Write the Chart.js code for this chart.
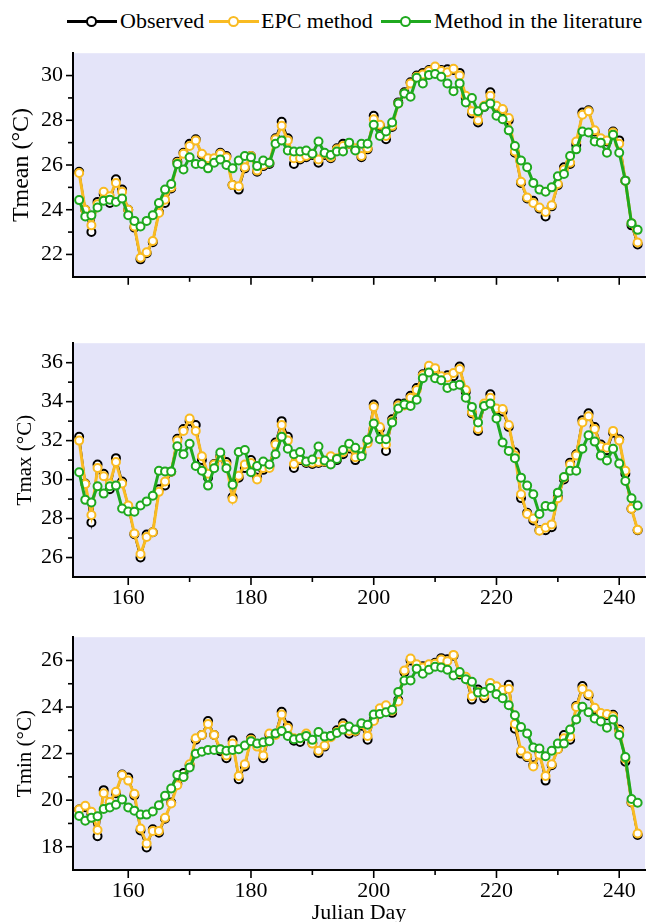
<!DOCTYPE html>
<html>
<head>
<meta charset="utf-8">
<script src="https://cdn.jsdelivr.net/npm/chart.js@4.4.0/dist/chart.umd.min.js"></script>
<style>
body{margin:0;background:#fff;width:651px;height:922px;position:relative;overflow:hidden;font-family:'Liberation Serif','Times New Roman',serif}
canvas{position:absolute;left:0}
.sw{position:absolute;top:20px;height:3px;width:50px}
.sw i{position:absolute;left:19px;top:-4px;width:7px;height:7px;border-radius:50%;background:#fff;border:2px solid}
.lb{position:absolute;top:10px;font-size:22px;line-height:22px;white-space:nowrap;color:#000}
</style>
</head>
<body>
<div class="sw" style="left:67px;background:#000"><i style="border-color:#000"></i></div>
<div class="lb" style="left:120px">Observed</div>
<div class="sw" style="left:209px;background:#f9bb22"><i style="border-color:#f9bb22"></i></div>
<div class="lb" style="left:261px">EPC method</div>
<div class="sw" style="left:381px;background:#1fa91f"><i style="border-color:#1fa91f"></i></div>
<div class="lb" style="left:434px">Method in the literature</div>

<canvas id="cMean" width="651" height="270" style="top:30px"></canvas>
<canvas id="cMax" width="651" height="300" style="top:320px"></canvas>
<canvas id="cMin" width="651" height="310" style="top:614px"></canvas>

<script>
const days = [152,153,154,155,156,157,158,159,160,161,162,163,164,165,166,167,168,169,170,171,
  172,173,174,175,176,177,178,179,180,181,182,183,184,185,186,187,188,189,190,191,
  192,193,194,195,196,197,198,199,200,201,202,203,204,205,206,207,208,209,210,211,
  212,213,214,215,216,217,218,219,220,221,222,223,224,225,226,227,228,229,230,231,
  232,233,234,235,236,237,238,239,240,241,242,243]

// Tmean
const obsMean = [25.7,24.0,23.0,24.35,24.7,24.3,25.36,24.9,24.0,23.2,21.78,22.05,22.55,23.9,24.3,24.95,26.15,26.55,26.95,27.15,
  26.45,26.25,26.25,26.55,26.4,25.1,24.9,25.85,26.4,25.7,25.95,26.05,27.2,27.93,27.2,26.05,26.25,26.35,26.45,26.1,
  26.45,26.3,26.75,26.95,26.95,26.7,26.35,26.7,28.2,27.75,27.15,27.7,28.8,29.25,29.7,30.0,30.12,30.25,30.35,30.25,
  30.28,30.25,30.12,29.0,28.3,27.9,28.6,29.25,28.6,28.45,28.0,26.55,25.2,24.5,24.4,24.05,23.7,24.15,25.1,25.9,
  26.05,26.9,28.35,28.45,27.5,27.15,27.05,27.5,27.1,25.3,23.3,22.45]
const epcMean = [25.64,24.0,23.3,24.25,24.8,24.6,25.2,24.8,24.0,23.25,21.85,22.1,22.6,23.85,24.45,25.0,26.1,26.5,26.85,27.1,
  26.5,26.3,26.3,26.5,26.35,25.1,25.05,25.9,26.4,25.75,26.0,26.1,27.15,27.75,27.1,26.3,26.3,26.4,26.5,26.25,
  26.5,26.35,26.7,26.85,26.95,26.75,26.4,26.75,28.05,27.8,27.3,27.75,28.75,29.2,29.65,29.95,30.05,30.2,30.4,30.2,
  30.15,30.3,30.0,29.1,28.4,28.0,28.65,29.1,28.65,28.5,28.1,26.6,25.25,24.55,24.3,24.1,23.9,24.2,25.15,25.8,
  26.1,27.05,28.25,28.4,27.55,27.2,27.1,27.45,26.95,25.3,23.4,22.53]
const litMean = [24.43,23.7,23.75,24.1,24.4,24.45,24.35,24.5,23.75,23.5,23.25,23.5,23.75,24.3,24.9,25.15,26.05,25.8,26.35,26.05,
  26.05,25.85,26.1,26.25,26.0,25.85,26.2,26.4,26.35,25.95,26.2,26.1,26.95,27.1,26.65,26.6,26.6,26.65,26.5,27.05,
  26.55,26.45,26.6,26.6,27.0,26.65,26.95,26.95,27.8,27.3,27.5,27.9,28.75,29.2,29.05,29.9,29.65,30.03,30.07,29.95,
  29.65,29.3,29.65,28.8,29.0,28.4,28.6,28.75,28.2,28.05,27.55,26.85,26.2,25.9,25.2,24.9,24.8,25.0,25.5,25.6,
  26.4,26.7,27.5,27.45,27.05,27.0,26.55,27.35,26.55,25.3,23.4,23.1]

// Tmax
const obsMax = [32.2,29.8,27.8,30.77,30.3,29.5,31.1,29.9,28.6,27.2,26.0,27.18,27.3,29.5,29.7,30.4,32.1,32.6,33.0,32.8,
  31.0,30.1,30.8,31.2,30.9,29.1,30.1,30.6,31.0,30.1,30.5,30.7,31.9,33.0,32.2,30.6,31.0,30.85,30.8,30.85,
  30.9,31.1,31.0,31.3,31.6,31.0,31.3,32.0,33.85,32.6,31.47,33.1,33.9,33.9,34.3,34.7,35.4,35.7,35.6,35.2,
  35.35,35.3,35.8,34.5,33.4,32.5,33.8,34.38,33.6,33.5,32.7,31.4,29.05,28.3,27.9,27.4,27.4,27.55,29.1,30.0,
  30.87,31.3,33.05,33.4,32.7,31.8,31.5,32.4,32.07,30.3,28.5,27.4]
const epcMax = [32.0,29.77,28.18,30.6,30.17,29.8,30.9,29.8,28.67,27.23,26.18,27.05,27.3,29.37,29.9,30.4,32.0,32.5,33.13,32.5,
  31.2,30.3,30.77,31.15,30.77,29.0,30.2,30.77,30.85,30.0,30.6,30.6,31.8,32.8,32.0,30.8,31.06,30.9,30.87,30.9,
  30.93,31.2,31.1,31.4,31.7,31.15,31.4,31.87,33.73,32.7,31.8,33.0,33.8,33.8,34.2,34.6,35.35,35.84,35.72,35.3,
  35.24,35.47,35.68,34.6,33.46,32.6,33.9,34.2,33.65,33.62,32.8,31.23,29.25,28.23,28.0,27.37,27.53,27.7,29.04,30.1,
  30.77,31.23,32.93,33.25,32.6,31.7,31.63,32.5,32.0,30.45,28.5,27.42]
const litMax = [30.38,28.96,28.83,29.66,29.28,29.66,29.69,28.52,28.36,28.35,28.67,28.88,29.17,30.45,30.42,30.42,31.71,31.3,31.84,30.7,
  30.45,29.69,30.58,31.39,30.58,29.74,31.42,31.52,30.38,30.7,30.93,30.77,31.3,32.2,31.58,31.3,31.42,30.93,31.03,31.7,
  30.98,30.77,31.06,31.52,31.84,31.63,31.2,32.04,32.88,32.07,32.07,32.93,33.65,33.86,33.78,34.1,35.2,35.5,35.2,35.1,
  34.7,34.82,34.87,34.2,33.73,32.93,33.78,33.9,33.14,31.9,31.47,31.1,30.1,29.69,29.25,28.23,28.64,28.6,29.33,30.13,
  30.45,30.45,31.58,32.28,31.95,31.23,30.98,31.58,30.82,29.93,29.04,28.67]

// Tmin
const obsMin = [19.6,19.7,19.4,18.45,20.43,19.9,20.3,21.1,20.97,20.2,18.7,17.97,18.75,18.6,19.2,19.9,20.7,21.17,21.5,22.6,
  22.8,23.4,22.8,22.1,21.8,22.57,20.9,21.45,22.66,22.4,21.8,22.8,22.85,23.8,23.2,22.55,22.5,22.8,22.45,22.03,
  22.3,22.75,23.0,23.3,22.85,22.95,23.2,22.6,23.45,23.9,24.0,23.75,24.3,25.5,26.0,25.8,25.75,25.8,25.9,26.1,
  26.05,26.2,25.4,25.25,24.32,24.75,24.38,25.0,24.85,24.7,24.96,23.07,22.0,21.85,21.5,22.05,20.84,21.5,22.2,22.8,
  22.6,24.05,24.9,24.5,23.9,23.7,23.65,23.67,23.03,21.65,19.9,18.5]
const epcMin = [19.6,19.76,19.5,18.72,20.3,19.92,20.36,21.08,20.84,20.27,18.78,18.14,18.68,18.68,19.24,19.86,20.64,21.0,21.54,22.66,
  22.8,23.27,22.8,22.19,21.92,22.43,21.04,21.54,22.6,22.3,21.92,22.86,22.8,23.68,23.1,22.66,22.66,22.86,22.43,22.12,
  22.35,22.7,22.93,23.2,22.97,22.97,23.27,22.76,23.4,23.95,24.08,23.84,24.24,25.57,26.08,25.84,25.7,25.84,25.86,26.04,
  25.97,26.24,25.45,25.3,24.46,24.65,24.49,25.03,24.89,24.73,24.78,23.27,22.12,21.89,21.45,21.95,21.04,21.54,22.19,22.66,
  22.73,24.0,24.78,24.55,23.97,23.74,23.7,23.6,22.97,21.78,19.92,18.57]
const litMin = [19.32,19.12,19.24,19.31,19.62,19.69,19.8,20.03,19.69,19.55,19.38,19.38,19.51,19.78,20.19,20.5,21.08,21.0,21.4,21.99,
  22.08,22.16,22.16,22.19,22.12,22.16,22.19,22.35,22.53,22.43,22.49,22.53,22.86,22.97,22.76,22.62,22.66,22.76,22.59,22.93,
  22.73,22.76,22.89,23.03,23.16,23.03,23.3,23.24,23.68,23.7,23.78,23.88,24.65,25.14,25.14,25.64,25.43,25.6,25.73,25.7,
  25.6,25.36,25.5,25.19,25.09,24.62,24.65,24.82,24.55,24.38,24.08,23.65,23.14,22.86,22.26,22.22,21.89,22.12,22.43,22.43,
  23.03,23.47,24.01,23.78,23.51,23.38,23.11,23.47,22.8,21.85,20.05,19.89]

const xMajor = [160,180,200,220,240]
const xMinor = [170,190,210,230]
const meanMajor = [22,24,26,28,30], meanMinor = [23,25,27,29]
const maxMajor = [26,28,30,32,34,36], maxMinor = [27,29,31,33,35]
const minMajor = [18,20,22,24,26], minMinor = [19,21,23,25]

const FONT = "'Liberation Serif', 'Times New Roman', serif"
const OBS = '#000000', EPC = '#f9bb22', LIT = '#1fa91f'

function pts(vals) {
  return vals.map((v, i) => ({x: days[i], y: v}))
}

function makeChart(id, p) {
  const marks = {
    id: 'marks',
    beforeDraw(chart) {
      const a = chart.chartArea, ctx = chart.ctx
      ctx.save()
      ctx.fillStyle = '#e4e4f9'
      ctx.fillRect(a.left, a.top, a.right - a.left, a.bottom - a.top)
      ctx.restore()
    },
    afterDraw(chart) {
      const a = chart.chartArea, ctx = chart.ctx
      const xs = chart.scales.x, ys = chart.scales.y
      ctx.save()
      ctx.strokeStyle = '#000'
      ctx.lineWidth = 1.6
      const line = (x1, y1, x2, y2) => { ctx.beginPath(); ctx.moveTo(x1, y1); ctx.lineTo(x2, y2); ctx.stroke() }
      xMajor.forEach(v => { const px = xs.getPixelForValue(v); line(px, a.bottom, px, a.bottom + 8) })
      xMinor.forEach(v => { const px = xs.getPixelForValue(v); line(px, a.bottom, px, a.bottom + 5) })
      p.yMajor.forEach(v => { const py = ys.getPixelForValue(v); line(a.left, py, a.left - 7, py) })
      p.yMinor.forEach(v => { const py = ys.getPixelForValue(v); line(a.left, py, a.left - 5, py) })
      ctx.restore()
    }
  }

  const series = (label, vals, color, width, order) => ({
    label: label,
    data: pts(vals),
    borderColor: color,
    borderWidth: width,
    pointRadius: 4,
    pointBorderWidth: 2,
    pointBackgroundColor: '#fff',
    pointBorderColor: color,
    order: order
  })

  return new Chart(document.getElementById(id), {
    type: 'line',
    data: {
      datasets: [
        series('Observed', p.obs, OBS, 2, 3),
        series('EPC method', p.epc, EPC, 3, 2),
        series('Method in the literature', p.lit, LIT, 3, 1)
      ]
    },
    options: {
      responsive: false,
      animation: false,
      devicePixelRatio: 1,
      layout: {padding: {top: p.padTop, right: 3, left: 0, bottom: 0}},
      plugins: {legend: {display: false}, tooltip: {enabled: false}},
      scales: {
        x: {
          type: 'linear',
          min: 151,
          max: 244.2,
          afterBuildTicks: s => { s.ticks = xMajor.map(v => ({value: v})) },
          afterFit: s => { s.height = p.xHeight },
          ticks: {display: p.showX, color: '#000', font: {family: FONT, size: 22}, padding: 8, maxRotation: 0},
          grid: {display: false, drawTicks: false},
          border: {display: true, color: '#000', width: 2},
          title: {display: !!p.xTitle, text: p.xTitle || '', color: '#000',
            font: {family: FONT, size: 22, lineHeight: 1}, padding: {top: 0, bottom: 0}}
        },
        y: {
          type: 'linear',
          min: p.yMin,
          max: p.yMax,
          afterBuildTicks: s => { s.ticks = p.yMajor.map(v => ({value: v})) },
          afterFit: s => { s.width = 73 },
          ticks: {color: '#000', font: {family: FONT, size: 22}, padding: 10},
          grid: {display: false, drawTicks: false},
          border: {display: true, color: '#000', width: 2},
          title: {display: true, text: p.yTitle, color: '#000',
            font: {family: FONT, size: p.titleSize, lineHeight: 1}, padding: {top: p.titlePad, bottom: 0}}
        }
      }
    },
    plugins: [marks]
  })
}

makeChart('cMean', {obs: obsMean, epc: epcMean, lit: litMean, yMin: 21, yMax: 31,
  yMajor: meanMajor, yMinor: meanMinor, yTitle: 'Tmean (°C)', titleSize: 24, titlePad: 10,
  showX: false, padTop: 8, xHeight: 15})
makeChart('cMax', {obs: obsMax, epc: epcMax, lit: litMax, yMin: 25, yMax: 37,
  yMajor: maxMajor, yMinor: maxMinor, yTitle: 'Tmax (°C)', titleSize: 21, titlePad: 15,
  showX: true, padTop: 9, xHeight: 43})
makeChart('cMin', {obs: obsMin, epc: epcMin, lit: litMin, yMin: 17, yMax: 27,
  yMajor: minMajor, yMinor: minMinor, yTitle: 'Tmin (°C)', titleSize: 21, titlePad: 15,
  showX: true, padTop: 9, xHeight: 54, xTitle: 'Julian Day'})
</script>
</body>
</html>
